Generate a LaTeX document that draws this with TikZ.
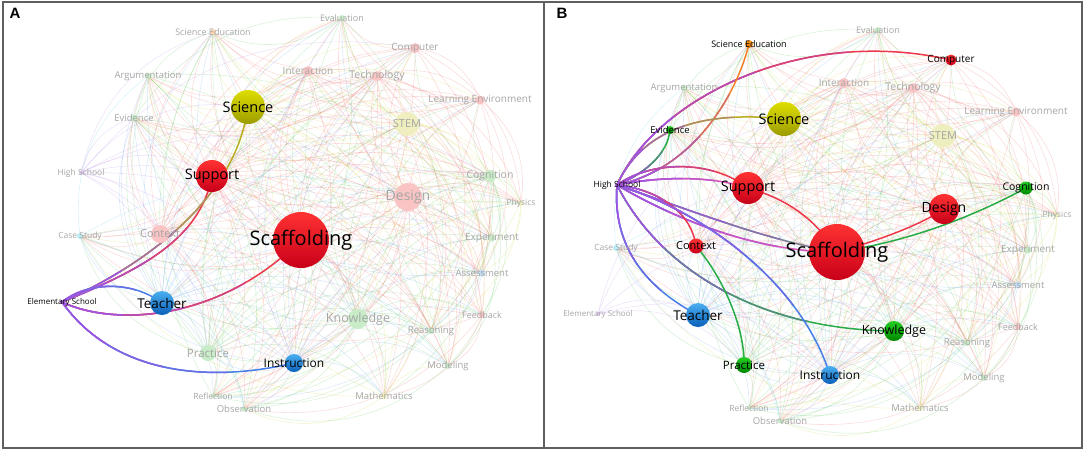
\documentclass[tikz,border=0pt]{standalone}
\usepackage{fontspec}
\setmainfont{Open Sans}
\newfontfamily\panelfont{Liberation Sans}
% shaded node colours
\definecolor{redT}{RGB}{255,50,50}
\definecolor{redB}{RGB}{200,0,25}
\definecolor{yelT}{RGB}{222,222,0}
\definecolor{yelB}{RGB}{155,155,0}
\definecolor{bluT}{RGB}{75,175,240}
\definecolor{bluB}{RGB}{10,95,185}
\definecolor{grnT}{RGB}{35,205,35}
\definecolor{grnB}{RGB}{0,135,0}
\definecolor{orgT}{RGB}{252,155,35}
\definecolor{orgB}{RGB}{222,110,0}
\definecolor{purT}{RGB}{175,100,225}
\definecolor{purB}{RGB}{130,60,190}
% faded node fills
\definecolor{fred}{RGB}{250,196,196}
\definecolor{fyel}{RGB}{238,238,190}
\definecolor{fgrn}{RGB}{200,236,200}
\definecolor{fblu}{RGB}{196,220,246}
\definecolor{fcyn}{RGB}{185,235,245}
\definecolor{forg}{RGB}{250,212,175}
\definecolor{fpur}{RGB}{225,200,242}
\definecolor{flab}{RGB}{165,165,165}
% faint edge colours
\definecolor{eRed}{RGB}{238,85,85}
\definecolor{eYel}{RGB}{205,205,40}
\definecolor{eBlu}{RGB}{85,150,230}
\definecolor{eCyn}{RGB}{60,200,225}
\definecolor{eGrn}{RGB}{70,190,70}
\definecolor{eOrg}{RGB}{242,150,60}
\definecolor{ePur}{RGB}{175,110,230}
% highlighted edge colours
\definecolor{hpur}{RGB}{160,85,225}
\definecolor{hred}{RGB}{238,55,75}
\definecolor{holv}{RGB}{185,172,30}
\definecolor{hblu}{RGB}{70,125,232}
\definecolor{hgrn}{RGB}{40,172,70}
\definecolor{horg}{RGB}{242,130,35}
\definecolor{hgry}{RGB}{120,130,145}
\definecolor{hmag}{RGB}{215,85,185}
\definecolor{frm}{RGB}{95,95,95}
% edge colour by source index
\colorlet{k1}{eRed}\colorlet{k2}{eRed}\colorlet{k3}{eRed}\colorlet{k4}{eYel}
\colorlet{k5}{eBlu}\colorlet{k6}{eGrn}\colorlet{k7}{eBlu}\colorlet{k8}{eRed}
\colorlet{k9}{eGrn}\colorlet{k10}{eYel}\colorlet{k11}{eRed}\colorlet{k12}{eGrn}
\colorlet{k13}{eRed}\colorlet{k14}{eRed}\colorlet{k15}{eRed}\colorlet{k16}{eRed}
\colorlet{k17}{eYel}\colorlet{k18}{eYel}\colorlet{k19}{eBlu}\colorlet{k20}{eCyn}
\colorlet{k21}{eGrn}\colorlet{k22}{eGrn}\colorlet{k23}{eGrn}\colorlet{k24}{eGrn}
\colorlet{k25}{eGrn}\colorlet{k26}{eGrn}\colorlet{k27}{eGrn}\colorlet{k28}{eGrn}
\colorlet{k29}{eOrg}

\newcommand\netpos{%
\coordinate (p1) at (301,240);% Scaffolding
\coordinate (p2) at (212,176);% Support
\coordinate (p3) at (408,197);% Design
\coordinate (p4) at (248,107);% Science
\coordinate (p5) at (162,303);% Teacher
\coordinate (p6) at (358,319);% Knowledge
\coordinate (p7) at (294,363);% Instruction
\coordinate (p8) at (160,234);% Context
\coordinate (p9) at (208,353);% Practice
\coordinate (p10) at (407,124);% STEM
\coordinate (p11) at (377,76);% Technology
\coordinate (p12) at (490,176);% Cognition
\coordinate (p13) at (415,48);% Computer
\coordinate (p14) at (308,71);% Interaction
\coordinate (p15) at (480,100);% Learning Environment
\coordinate (p16) at (482,315);% Feedback
\coordinate (p17) at (521,203);% Physics
\coordinate (p18) at (384,396);% Mathematics
\coordinate (p19) at (482,273);% Assessment
\coordinate (p20) at (80,236);% Case Study
\coordinate (p21) at (134,118);% Evidence
\coordinate (p22) at (148,76);% Argumentation
\coordinate (p23) at (342,18);% Evaluation
\coordinate (p24) at (492,238);% Experiment
\coordinate (p25) at (431,331);% Reasoning
\coordinate (p26) at (448,366);% Modeling
\coordinate (p27) at (213,396);% Reflection
\coordinate (p28) at (244,409);% Observation
\coordinate (p29) at (213,32);% Science Education
\coordinate (p30) at (81,173);% High School
\coordinate (p31) at (62,302);% Elementary School
}
\newcommand\faintweb{%
\foreach \i in {1,...,29}{%
  \foreach \j in {1,...,29}{%
    \pgfmathtruncatemacro\ok{(\i<\j)&&((\i<=12)||(mod(\i+\j,2)==0))}%
    \ifnum\ok=1 \draw[faint,k\i] (p\i) to[bend left=30] (p\j);\fi
  }}}
% gradient edge: #1 start coordinate, #2 rest of path, #3 start colour, #4 end colour, #5 chord length
\newcommand\gedge[5]{%
  \draw[hl,#4] (#1) #2;
  \begin{scope}\clip (#1) circle[radius={#5*0.75pt}];\draw[hl,#3!35!#4] (#1) #2;\end{scope}
  \begin{scope}\clip (#1) circle[radius={#5*0.5pt}];\draw[hl,#3!70!#4] (#1) #2;\end{scope}
  \begin{scope}\clip (#1) circle[radius={#5*0.25pt}];\draw[hl,#3] (#1) #2;\end{scope}}
% bubble: index, diameter, style
\newcommand\bub[3]{\node[circle,inner sep=0pt,minimum size=#2pt,#3] (n#1) at (p#1) {};}
% label: index, text, size, colour
\newcommand\lbl[4]{\node[inner sep=0pt,text=#4,font=\fontsize{#3}{#3}\selectfont] (l#1) at (p#1) {#2};}

\begin{document}
\begin{tikzpicture}[x=1pt,y=-1pt,
  faint/.style={line width=0.6pt,draw opacity=0.2},
  hl/.style={line width=1.5pt},
  sred/.style={top color=redT,bottom color=redB},
  syel/.style={top color=yelT,bottom color=yelB},
  sblu/.style={top color=bluT,bottom color=bluB},
  sgrn/.style={top color=grnT,bottom color=grnB},
  sorg/.style={top color=orgT,bottom color=orgB},
  spur/.style={top color=purT,bottom color=purB},
  frame/.style={draw=frm,line width=1.4pt},
  panel/.style={font=\panelfont\bfseries\fontsize{15}{15}\selectfont,inner sep=0pt}]
\useasboundingbox (0,0) rectangle (1084,451);

% ================= Panel A =================
\begin{scope}
\netpos
\faintweb
\foreach \j in {1,2,3,4,5,6,7,8,9,12,13,21,29}{\draw[faint,ePur] (p30) to[bend left=30] (p\j);}
\end{scope}
\gedge{p31}{.. controls (140,270) and (200,240) .. (p2)}{hpur}{hred}{196}
\gedge{p31}{.. controls (145,265) and (235,200) .. (p4)}{hpur}{holv}{270}
\gedge{p31}{.. controls (90,280) and (135,282) .. (p5)}{hpur}{hblu}{100}
\gedge{p31}{.. controls (110,325) and (215,325) .. (p1)}{hpur}{hred}{247}
\gedge{p31}{.. controls (110,370) and (200,385) .. (p7)}{hpur}{hblu}{240}

\bub{1}{56}{sred}\bub{2}{32}{sred}\bub{3}{28}{fill=fred}\bub{4}{34}{syel}
\bub{5}{24}{sblu}\bub{6}{20}{fill=fgrn}\bub{7}{18}{sblu}\bub{8}{18}{fill=fred}
\bub{9}{16}{fill=fgrn}\bub{10}{24}{fill=fyel}\bub{11}{10}{fill=fred}\bub{12}{12}{fill=fgrn}
\bub{13}{10}{fill=fred}\bub{14}{10}{fill=fred}\bub{15}{9}{fill=fred}\bub{16}{6}{fill=fred}
\bub{17}{5}{fill=fyel}\bub{18}{6}{fill=fyel}\bub{19}{7}{fill=fblu}\bub{20}{6}{fill=fcyn}
\bub{21}{7}{fill=fgrn}\bub{22}{6}{fill=fgrn}\bub{23}{6}{fill=fgrn}\bub{24}{7}{fill=fgrn}
\bub{25}{6}{fill=fgrn}\bub{26}{6}{fill=fgrn}\bub{27}{4}{fill=fgrn}\bub{28}{5}{fill=fgrn}
\bub{29}{6}{fill=forg}\bub{30}{4}{fill=fpur}\bub{31}{4}{spur}

\lbl{1}{Scaffolding}{20}{black}\lbl{2}{Support}{14.5}{black}\lbl{3}{Design}{14}{flab}
\lbl{4}{Science}{14.5}{black}\lbl{5}{Teacher}{13.5}{black}\lbl{6}{Knowledge}{12.5}{flab}
\lbl{7}{Instruction}{12}{black}\lbl{8}{Context}{11}{flab}\lbl{9}{Practice}{11.5}{flab}
\lbl{10}{STEM}{11}{flab}\lbl{11}{Technology}{10.5}{flab}\lbl{12}{Cognition}{10.5}{flab}
\lbl{13}{Computer}{10}{flab}\lbl{14}{Interaction}{10}{flab}\lbl{15}{Learning Environment}{10}{flab}
\lbl{16}{Feedback}{9}{flab}\lbl{17}{Physics}{8.5}{flab}\lbl{18}{Mathematics}{9.5}{flab}
\lbl{19}{Assessment}{9.5}{flab}\lbl{20}{Case Study}{8.5}{flab}\lbl{21}{Evidence}{9.5}{flab}
\lbl{22}{Argumentation}{9.5}{flab}\lbl{23}{Evaluation}{9}{flab}\lbl{24}{Experiment}{10}{flab}
\lbl{25}{Reasoning}{9.5}{flab}\lbl{26}{Modeling}{9.5}{flab}\lbl{27}{Reflection}{8.5}{flab}
\lbl{28}{Observation}{9.5}{flab}\lbl{29}{Science Education}{9}{flab}\lbl{30}{High School}{8.5}{flab}
\lbl{31}{Elementary School}{8}{black}

% ================= Panel B =================
\begin{scope}[shift={(536,12)}]
\netpos
\faintweb
\foreach \j in {1,2,4,5,7,9}{\draw[faint,ePur] (p31) to[bend left=30] (p\j);}
\end{scope}
\gedge{p30}{.. controls (655,100) and (800,25) .. (p13)}{hpur}{hred}{357}
\gedge{p30}{.. controls (690,170) and (735,100) .. (p29)}{hpur}{horg}{193}
\gedge{p30}{.. controls (648,172) and (668,152) .. (p21)}{hpur}{hgrn}{76}
\gedge{p30}{.. controls (642,130) and (700,110) .. (p4)}{hpur}{holv}{180}
\gedge{p30}{.. controls (652,160) and (712,160) .. (p2)}{hpur}{hred}{131}
\gedge{p30}{.. controls (662,176) and (712,176) .. (p2)}{hpur}{hmag}{131}
\gedge{p30}{.. controls (680,222) and (760,252) .. (p1)}{hpur}{hmag}{230}
\gedge{p30}{.. controls (690,210) and (765,240) .. (p1)}{hpur}{hgry}{230}
\gedge{p30}{.. controls (662,190) and (692,215) .. (p8)}{hpur}{hred}{100}
\gedge{p30}{.. controls (612,250) and (650,290) .. (p5)}{hpur}{hblu}{153}
\gedge{p30}{.. controls (660,270) and (760,330) .. (p6)}{hpur}{hgrn}{313}
\gedge{p30}{.. controls (700,210) and (800,280) .. (p7)}{hpur}{hblu}{285}
\draw[hl,hred] (p2) .. controls (790,200) and (815,220) .. (p1);
\draw[hl,hred] (p1) .. controls (880,240) and (920,225) .. (p3);
\draw[hl,hgrn] (p1) .. controls (920,240) and (985,210) .. (p12);
\draw[hl,hgrn] (p8) .. controls (725,280) and (745,330) .. (p9);

\bub{1}{56}{sred}\bub{2}{32}{sred}\bub{3}{30}{sred}\bub{4}{34}{syel}
\bub{5}{24}{sblu}\bub{6}{20}{sgrn}\bub{7}{18}{sblu}\bub{8}{15}{sred}
\bub{9}{16}{sgrn}\bub{10}{24}{fill=fyel}\bub{11}{10}{fill=fred}\bub{12}{13}{sgrn}
\bub{13}{11}{sred}\bub{14}{10}{fill=fred}\bub{15}{9}{fill=fred}\bub{16}{6}{fill=fred}
\bub{17}{5}{fill=fyel}\bub{18}{6}{fill=fyel}\bub{19}{7}{fill=fblu}\bub{20}{6}{fill=fcyn}
\bub{21}{8}{sgrn}\bub{22}{6}{fill=fgrn}\bub{23}{6}{fill=fgrn}\bub{24}{7}{fill=fgrn}
\bub{25}{6}{fill=fgrn}\bub{26}{6}{fill=fgrn}\bub{27}{4}{fill=fgrn}\bub{28}{5}{fill=fgrn}
\bub{29}{8}{sorg}\bub{30}{4}{spur}\bub{31}{4}{fill=fpur}

\lbl{1}{Scaffolding}{20}{black}\lbl{2}{Support}{14.5}{black}\lbl{3}{Design}{14}{black}
\lbl{4}{Science}{14.5}{black}\lbl{5}{Teacher}{13.5}{black}\lbl{6}{Knowledge}{12.5}{black}
\lbl{7}{Instruction}{12}{black}\lbl{8}{Context}{11}{black}\lbl{9}{Practice}{11.5}{black}
\lbl{10}{STEM}{11}{flab}\lbl{11}{Technology}{10.5}{flab}\lbl{12}{Cognition}{10.5}{black}
\lbl{13}{Computer}{10}{black}\lbl{14}{Interaction}{10}{flab}\lbl{15}{Learning Environment}{10}{flab}
\lbl{16}{Feedback}{9}{flab}\lbl{17}{Physics}{8.5}{flab}\lbl{18}{Mathematics}{9.5}{flab}
\lbl{19}{Assessment}{9.5}{flab}\lbl{20}{Case Study}{8.5}{flab}\lbl{21}{Evidence}{9.5}{black}
\lbl{22}{Argumentation}{9.5}{flab}\lbl{23}{Evaluation}{9}{flab}\lbl{24}{Experiment}{10}{flab}
\lbl{25}{Reasoning}{9.5}{flab}\lbl{26}{Modeling}{9.5}{flab}\lbl{27}{Reflection}{8.5}{flab}
\lbl{28}{Observation}{9.5}{flab}\lbl{29}{Science Education}{9}{black}\lbl{30}{High School}{8.5}{black}
\lbl{31}{Elementary School}{8}{flab}

% frames and panel letters
\draw[frame] (3,2) rectangle (1082,448);
\draw[frame] (544,2) -- (544,448);
\node[panel] (lA) at (15,13) {A};
\node[panel] (lB) at (562,13) {B};
\end{tikzpicture}
\end{document}
